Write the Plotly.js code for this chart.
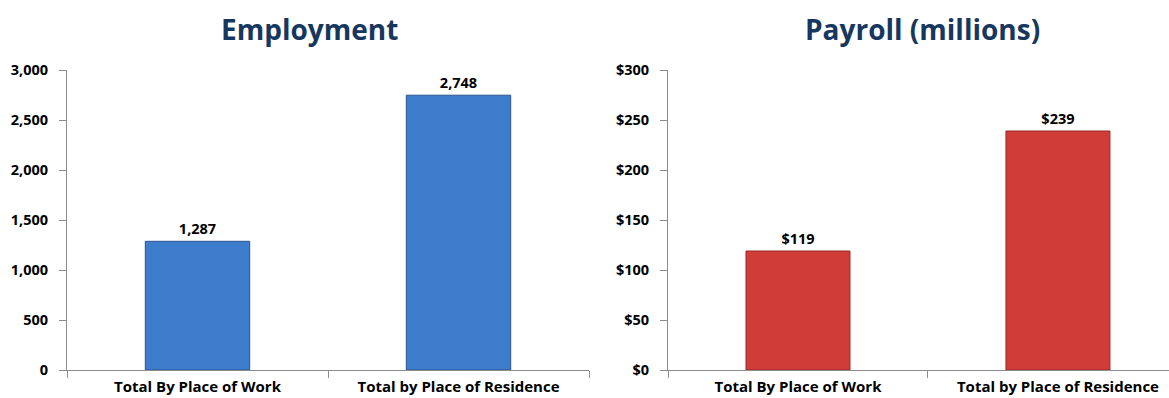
<!DOCTYPE html>
<html><head><meta charset="utf-8">
<script src="https://cdn.plot.ly/plotly-3.0.1.min.js"></script>
<style>html,body{margin:0;padding:0;background:#fff}#c{width:1169px;height:398px}</style>
</head><body><div id="c"></div>
<script>
const categories = ["Total By Place of Work", "Total by Place of Residence"];
const employment = [1287, 2748];
const payroll = [119, 239];
const empTicks = [0, 500, 1000, 1500, 2000, 2500, 3000];
const payTicks = [0, 50, 100, 150, 200, 250, 300];

const F = "Open Sans, DejaVu Sans, sans-serif";
const traces = [
  {type:"bar", x:categories, y:employment, xaxis:"x", yaxis:"y", width:0.4,
   marker:{color:"#3D7BCB", line:{color:"#2A5490", width:1}},
   text:employment.map(v=>v.toLocaleString("en-US")), textposition:"outside",
   textfont:{family:F, size:14.5, color:"#000", weight:"bold"}, cliponaxis:false, hoverinfo:"none"},
  {type:"bar", x:categories, y:payroll, xaxis:"x2", yaxis:"y2", width:0.4,
   marker:{color:"#D03D39", line:{color:"#962A27", width:1}},
   text:payroll.map(v=>"$"+v), textposition:"outside",
   textfont:{family:F, size:14.5, color:"#000", weight:"bold"}, cliponaxis:false, hoverinfo:"none"}
];
const axX = {type:"category", showline:true, linecolor:"#8c8c8c", linewidth:1, ticks:"outside",
  tickson:"boundaries", ticklen:7, tickcolor:"#8c8c8c", showgrid:false, zeroline:false,
  ticklabelstandoff:3,
  tickfont:{family:F, size:15, color:"#000", weight:"bold"}};
const axY = {showline:true, linecolor:"#8c8c8c", linewidth:1, ticks:"outside", ticklen:7,
  tickcolor:"#8c8c8c", showgrid:false, zeroline:false, range:[0,3000],
  tickfont:{family:F, size:14.5, color:"#000", weight:"bold"}, ticklabelstandoff:8};
const layout = {
  width:1169, height:398, margin:{l:0, r:0, t:70, b:28},
  paper_bgcolor:"#fff", plot_bgcolor:"#fff", showlegend:false, bargap:0.6,
  xaxis:Object.assign({}, axX, {domain:[67/1169, 589/1169], range:[-0.5,1.5], anchor:"y"}),
  yaxis:Object.assign({}, axY, {anchor:"x", tickvals:empTicks,
    ticktext:empTicks.map(v=>v.toLocaleString("en-US")), range:[0,3000]}),
  xaxis2:Object.assign({}, axX, {domain:[668/1169, 1], range:[-0.5, 1.5-19/261], anchor:"y2"}),
  yaxis2:Object.assign({}, axY, {anchor:"x2", tickvals:payTicks,
    ticktext:payTicks.map(v=>"$"+v), range:[0,300]}),
  annotations:[
    {text:"Employment", xref:"paper", yref:"paper", x:309/1169, y:1, yanchor:"bottom",
     xanchor:"center", showarrow:false, font:{family:F, size:28, color:"#17375E", weight:"bold"}, yshift:20},
    {text:"Payroll (millions)", xref:"paper", yref:"paper", x:922/1169, y:1, yanchor:"bottom",
     xanchor:"center", showarrow:false, font:{family:F, size:28, color:"#17375E", weight:"bold"}, yshift:20}
  ]
};
Plotly.newPlot("c", traces, layout, {displayModeBar:false, staticPlot:true});
</script></body></html>
